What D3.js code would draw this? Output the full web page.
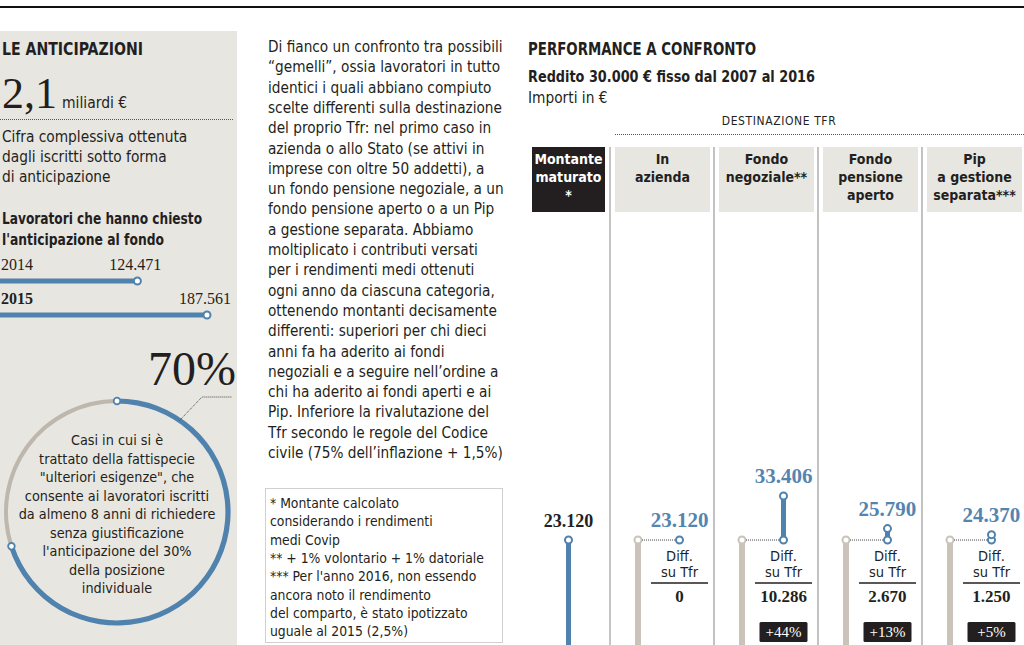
<!DOCTYPE html>
<html><head><meta charset="utf-8">
<script src="https://cdn.jsdelivr.net/npm/d3@7"></script>
<style>
html,body{margin:0;padding:0;background:#fff;}
svg{display:block;}
</style></head><body>
<svg id="c" width="1024" height="645"></svg>
<script>
// ---------- DATA ----------
const categories = ["Montante maturato *","In azienda","Fondo negoziale**","Fondo pensione aperto","Pip a gestione separata***"];
const headerLines = [["Montante","maturato","*"],["In","azienda"],["Fondo","negoziale**"],["Fondo","pensione","aperto"],["Pip","a gestione","separata***"]];
const values = [23120, 23120, 33406, 25790, 24370];
const tfrValue = 23120;
const diffs = [null, 0, 10286, 2670, 1250];
const pctLabels = [null, null, "+44%", "+13%", "+5%"];
const workerYears = ["2014", "2015"];
const workerValues = [124471, 187561];
const ulterioriShare = 0.70;
const totalAnticipo = "2,1";

const introLines = ["Cifra complessiva ottenuta","dagli iscritti sotto forma","di anticipazione"];
const workersTitle = ["Lavoratori che hanno chiesto","l'anticipazione al fondo"];
const circleLines = ["Casi in cui si è","trattato della fattispecie","\"ulteriori esigenze\", che","consente ai lavoratori iscritti","da almeno 8 anni di richiedere","senza giustificazione","l'anticipazione del 30%","della posizione","individuale"];
const bodyLines = ["Di fianco un confronto tra possibili","“gemelli”, ossia lavoratori in tutto","identici i quali abbiano compiuto","scelte differenti sulla destinazione","del proprio Tfr: nel primo caso in","azienda o allo Stato (se attivi in","imprese con oltre 50 addetti), a","un fondo pensione negoziale, a un","fondo pensione aperto o a un Pip","a gestione separata. Abbiamo","moltiplicato i contributi versati","per i rendimenti medi ottenuti","ogni anno da ciascuna categoria,","ottenendo montanti decisamente","differenti: superiori per chi dieci","anni fa ha aderito ai fondi","negoziali e a seguire nell’ordine a","chi ha aderito ai fondi aperti e ai","Pip. Inferiore la rivalutazione del","Tfr secondo le regole del Codice","civile (75% dell’inflazione + 1,5%)"];
const noteLines = ["* Montante calcolato","considerando i rendimenti","medi Covip","** + 1% volontario + 1% datoriale","*** Per l'anno 2016, non essendo","ancora noto il rendimento","del comparto, è stato ipotizzato","uguale al 2015 (2,5%)"];

// ---------- STYLE ----------
const SANS = "'Liberation Sans Narrow','DejaVu Sans Condensed','Roboto Condensed',sans-serif";
const SERIF = "'Liberation Serif','DejaVu Serif',serif";
const BLUE = "#4f82ad";
const BLUETXT = "#5385b0";
const GRAY = "#c9c3b9";
const PANEL = "#e8e6e1";
const DARK = "#231f20";

const it = d3.formatLocale({decimal:",", thousands:".", grouping:[3], currency:["","€"]});
const fmt = it.format(",d");

const svg = d3.select("#c");

function lines(g, arr, x, y0, dy, anchor){
  const t = g.append("text").attr("text-anchor", anchor||"start");
  arr.forEach((s,i)=>t.append("tspan").attr("x",x).attr("y",y0+i*dy).text(s));
  return t;
}
function fitText(g, s, x, y, size, width, bold){
  return g.append("text").attr("x",x).attr("y",y).attr("font-family",SANS).attr("font-size",size)
    .attr("font-weight",bold?"bold":"normal").attr("fill",DARK)
    .attr("textLength",width).attr("lengthAdjust","spacingAndGlyphs").text(s);
}

// top rule
svg.append("line").attr("x1",0).attr("x2",1024).attr("y1",7).attr("y2",7).attr("stroke","#111").attr("stroke-width",2);

// ---------- LEFT PANEL ----------
const L = svg.append("g");
L.append("rect").attr("x",0).attr("y",31).attr("width",237).attr("height",614).attr("fill",PANEL);
fitText(L, "LE ANTICIPAZIONI", 2, 55, 17, 141, true);
L.append("text").attr("x",2).attr("y",108).attr("font-family",SERIF).attr("font-size",44).attr("fill",DARK).text(totalAnticipo);
L.append("text").attr("x",62).attr("y",108).attr("font-family",SANS).attr("font-size",15.5).attr("fill",DARK).text("miliardi €");
L.append("line").attr("x1",0).attr("x2",233).attr("y1",119.5).attr("y2",119.5).attr("stroke","#555").attr("stroke-dasharray","1,1");
lines(L, introLines, 2, 142, 20).attr("font-family",SANS).attr("font-size",15.3).attr("fill",DARK);
fitText(L, workersTitle[0], 2, 224, 16, 200, true);
fitText(L, workersTitle[1], 2, 245, 16, 162, true);

const xW = d3.scaleLinear().domain([0, d3.max(workerValues)]).range([0, 207]);
const wy = [270, 304];
workerValues.forEach((v,i)=>{
  L.append("text").attr("x",1).attr("y",wy[i]).attr("font-family",SERIF).attr("font-size",16)
    .attr("font-weight", i===1?"bold":"normal").attr("fill",DARK).text(workerYears[i]);
  L.append("text").attr("x",xW(v)+24).attr("y",wy[i]).attr("text-anchor","end").attr("font-family",SERIF).attr("font-size",16).attr("fill",DARK).text(fmt(v));
  L.append("line").attr("x1",xW(0)).attr("x2",xW(v)).attr("y1",wy[i]+11).attr("y2",wy[i]+11).attr("stroke",BLUE).attr("stroke-width",5);
  L.append("circle").attr("cx",xW(v)).attr("cy",wy[i]+11).attr("r",3.5).attr("fill","#fff").attr("stroke",BLUE).attr("stroke-width",2);
});

// 70% ring
const cx=117, cy=512, R=111;
const ring = L.append("g").attr("transform",`translate(${cx},${cy})`);
const endA = 2*Math.PI*ulterioriShare;
ring.append("path").attr("d", d3.arc()({innerRadius:R-2, outerRadius:R+2, startAngle:endA, endAngle:2*Math.PI})).attr("fill","#bdb7ad");
ring.append("path").attr("d", d3.arc()({innerRadius:R-2.6, outerRadius:R+2.6, startAngle:0, endAngle:endA})).attr("fill",BLUE);
[0,endA].forEach(a=>{
  ring.append("circle").attr("cx",R*Math.sin(a)).attr("cy",-R*Math.cos(a)).attr("r",3.3).attr("fill","#fff").attr("stroke",BLUE).attr("stroke-width",1.8);
});
const la = 0.6;
L.append("polyline").attr("points",`${cx+R*Math.sin(la)},${cy-R*Math.cos(la)} 202,397 232,397`).attr("fill","none").attr("stroke","#444").attr("stroke-width",1).attr("stroke-dasharray","1,1");
L.append("text").attr("x",236).attr("y",385).attr("text-anchor","end").attr("font-family",SERIF).attr("font-size",48).attr("fill",DARK).text(d3.format(".0%")(ulterioriShare));
lines(L, circleLines, cx, 445, 18.5, "middle").attr("font-family",SANS).attr("font-size",14.3).attr("fill",DARK);

// ---------- MIDDLE TEXT ----------
const M = svg.append("g");
lines(M, bodyLines, 268, 52, 20.3).attr("font-family",SANS).attr("font-size",15.2).attr("fill",DARK);
M.append("rect").attr("x",265.5).attr("y",488.5).attr("width",237).attr("height",154).attr("fill","none").attr("stroke","#d0d0d0");
lines(M, noteLines, 270, 508, 18.3).attr("font-family",SANS).attr("font-size",13.8).attr("fill",DARK);

// ---------- RIGHT CHART ----------
const R2 = svg.append("g");
fitText(R2, "PERFORMANCE A CONFRONTO", 528, 55, 17, 228, true);
fitText(R2, "Reddito 30.000 € fisso dal 2007 al 2016", 528, 82, 15.5, 287, true);
R2.append("text").attr("x",528).attr("y",103).attr("font-family",SANS).attr("font-size",15.3).attr("fill",DARK).text("Importi in €");
R2.append("text").attr("x",779).attr("y",125).attr("text-anchor","middle").attr("font-family",SANS).attr("font-size",12).attr("letter-spacing",0.6).attr("fill",DARK).text("DESTINAZIONE TFR");
R2.append("line").attr("x1",615).attr("x2",1024).attr("y1",134.5).attr("y2",134.5).attr("stroke","#555").attr("stroke-dasharray","1,1");

const band = d3.scaleBand().domain(categories).range([511,1022]).paddingInner(0.0865).paddingOuter(0);
const bw = band.bandwidth();
const y = d3.scaleLinear().domain([0, d3.max(values)]).range([639, 496]);

categories.forEach((c,i)=>{
  const bx = band(c);
  const first = i===0;
  const rx = first ? bx+21 : bx;
  const rw = first ? 73 : bw;
  R2.append("rect").attr("x",rx).attr("y",147).attr("width",rw).attr("height",65).attr("fill", first?DARK:PANEL);
  lines(R2, headerLines[i], rx+rw/2, 164, 18, "middle").attr("font-family",SANS).attr("font-weight","bold").attr("font-size",14).attr("fill", first?"#fff":DARK);
  if(!first){
    R2.append("line").attr("x1",bx-5).attr("x2",bx-5).attr("y1",147).attr("y2",645).attr("stroke", i===1?"#c4c4c4":"#9a9a9a").attr("stroke-width", i===1?2:1.2);
  }
});

categories.forEach((c,i)=>{
  const bx = band(c);
  const v = values[i];
  if(i===0){
    const x0 = bx+21+36.5;
    R2.append("line").attr("x1",x0).attr("x2",x0).attr("y1",y(v)).attr("y2",645).attr("stroke",BLUE).attr("stroke-width",5);
    R2.append("circle").attr("cx",x0).attr("cy",y(v)).attr("r",3.5).attr("fill","#fff").attr("stroke",BLUE).attr("stroke-width",2);
    R2.append("text").attr("x",x0).attr("y",y(v)-13).attr("text-anchor","middle").attr("font-family",SERIF).attr("font-weight","bold").attr("font-size",18).attr("fill",DARK).text(fmt(v));
    return;
  }
  const gx = bx+23;
  const vx = bx+bw/2+17;
  R2.append("line").attr("x1",gx).attr("x2",gx).attr("y1",y(tfrValue)).attr("y2",645).attr("stroke",GRAY).attr("stroke-width",6);
  R2.append("circle").attr("cx",gx).attr("cy",y(tfrValue)).attr("r",3.5).attr("fill","#fff").attr("stroke",GRAY).attr("stroke-width",2);
  R2.append("line").attr("x1",gx+4).attr("x2",vx-4).attr("y1",y(tfrValue)).attr("y2",y(tfrValue)).attr("stroke","#444").attr("stroke-width",1).attr("stroke-dasharray","1,1");
  if(v>tfrValue){
    R2.append("line").attr("x1",vx).attr("x2",vx).attr("y1",y(v)).attr("y2",y(tfrValue)).attr("stroke",BLUE).attr("stroke-width",5);
    R2.append("circle").attr("cx",vx).attr("cy",y(tfrValue)).attr("r",3.5).attr("fill","#fff").attr("stroke",BLUE).attr("stroke-width",2);
  }
  R2.append("circle").attr("cx",vx).attr("cy",y(v)).attr("r",3.5).attr("fill","#fff").attr("stroke",BLUE).attr("stroke-width",2);
  R2.append("text").attr("x",vx).attr("y",y(v)-13).attr("text-anchor","middle").attr("font-family",SERIF).attr("font-weight","bold").attr("font-size",21).attr("fill",BLUETXT).text(fmt(v));
  lines(R2, ["Diff.","su Tfr"], vx, 561, 16, "middle").attr("font-family",SANS).attr("font-size",14.5).attr("fill",DARK);
  R2.append("line").attr("x1",vx-28.5).attr("x2",vx+28.5).attr("y1",583).attr("y2",583).attr("stroke",DARK).attr("stroke-width",1.3);
  R2.append("text").attr("x",vx).attr("y",602).attr("text-anchor","middle").attr("font-family",SERIF).attr("font-weight","bold").attr("font-size",17).attr("fill",DARK).text(fmt(diffs[i]));
  if(pctLabels[i]){
    R2.append("rect").attr("x",vx-24).attr("y",622).attr("width",48).attr("height",20).attr("rx",1.5).attr("fill",DARK);
    R2.append("text").attr("x",vx).attr("y",637).attr("text-anchor","middle").attr("font-family",SERIF).attr("font-size",15).attr("fill","#fff").text(pctLabels[i]);
  }
});
</script>
</body></html>
